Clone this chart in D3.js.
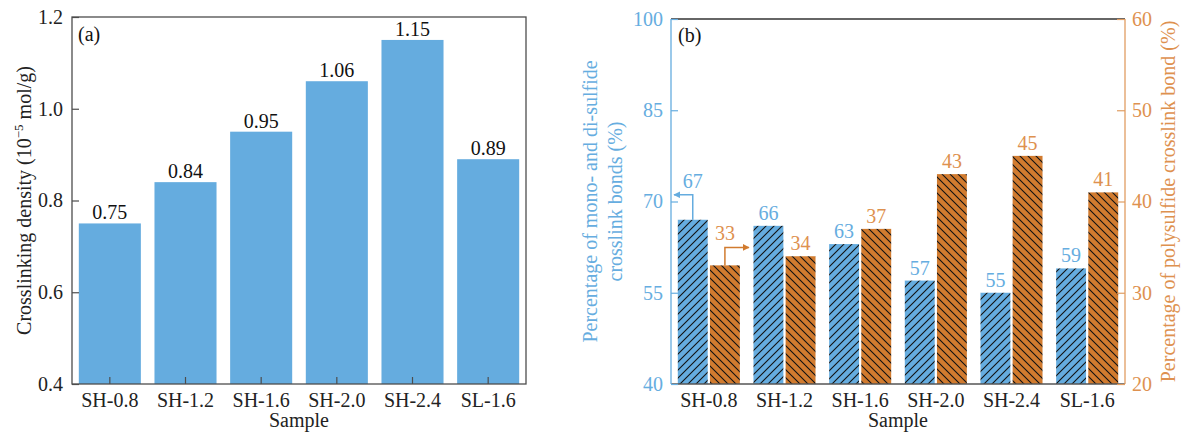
<!DOCTYPE html>
<html>
<head>
<meta charset="utf-8">
<script src="https://cdn.jsdelivr.net/npm/d3@7"></script>
<style>
  body { margin: 0; background: #fff; }
  svg { display: block; }
  svg text { font-family: "Liberation Serif", "Times New Roman", serif !important; }
</style>
</head>
<body>
<svg id="chart" width="1185" height="432" font-family="Liberation Serif"></svg>
<script>
// ---- Data ----
const samples = ["SH-0.8", "SH-1.2", "SH-1.6", "SH-2.0", "SH-2.4", "SL-1.6"];
const crosslinkDensity = [0.75, 0.84, 0.95, 1.06, 1.15, 0.89];
const monoDiPercent = [67, 66, 63, 57, 55, 59];
const polyPercent = [33, 34, 37, 43, 45, 41];
const densityTicks = [0.4, 0.6, 0.8, 1.0, 1.2];
const monoDiTicks = [40, 55, 70, 85, 100];
const polyTicks = [20, 30, 40, 50, 60];

// ---- Styles ----
const BLUE = "#65ACDF";
const ORANGE = "#D17B2F";
const BLUE_TXT = "#66ADE0";
const ORANGE_TXT = "#DE914F";
const ORANGE_AXIS = "#E09D62";
const FRAME = "#4d4d4d";
const FS = 20;
const FONT = "Liberation Serif";

const svg = d3.select("#chart");
const defs = svg.append("defs");

function txt(sel) {
  return sel.attr("font-family", FONT).style("font-family", FONT).style("font-size", FS + "px");
}

function hatch(id, color, dir) {
  const p = defs.append("pattern").attr("id", id)
    .attr("patternUnits", "userSpaceOnUse").attr("width", 8).attr("height", 8);
  p.append("rect").attr("width", 8).attr("height", 8).attr("fill", color);
  const path = dir === "/" ? "M-2,2 l4,-4 M0,8 l8,-8 M6,10 l4,-4"
                           : "M-2,6 l4,4 M0,0 l8,8 M6,-2 l4,4";
  p.append("path").attr("d", path).attr("stroke", "#111").attr("stroke-width", 1.1);
}
hatch("hBlue", BLUE, "/");
hatch("hOrange", ORANGE, "\\");

function marker(id, color) {
  defs.append("marker").attr("id", id).attr("viewBox", "0 0 10 10")
    .attr("refX", 9).attr("refY", 5).attr("markerWidth", 7).attr("markerHeight", 7)
    .attr("markerUnits", "userSpaceOnUse").attr("orient", "auto")
    .append("path").attr("d", "M0,0 L10,5 L0,10 Z").attr("fill", color);
}

function styleAxis(g, color) {
  g.attr("font-family", FONT);
  g.selectAll("path.domain").remove();
  g.selectAll("line").attr("stroke", color).attr("stroke-width", 1.2);
  txt(g.selectAll("text").attr("fill", color));
}

// ================= Panel (a) =================
{
  const L = 72, R = 526, T = 17, B = 384;
  const x = d3.scaleBand().domain(samples).range([L, R]).paddingInner(0.18).paddingOuter(0.09);
  const y = d3.scaleLinear().domain([0.4, 1.2]).range([B, T]);

  svg.append("g").selectAll("rect").data(samples).join("rect")
    .attr("x", d => x(d)).attr("width", x.bandwidth())
    .attr("y", (d, i) => y(crosslinkDensity[i]))
    .attr("height", (d, i) => B - y(crosslinkDensity[i]))
    .attr("fill", BLUE);

  txt(svg.append("g").selectAll("text").data(samples).join("text")
    .attr("x", d => x(d) + x.bandwidth() / 2)
    .attr("y", (d, i) => y(crosslinkDensity[i]) - 4)
    .attr("text-anchor", "middle").attr("fill", "#111"))
    .text((d, i) => crosslinkDensity[i].toFixed(2));

  const gy = svg.append("g").attr("transform", `translate(${L},0)`)
    .call(d3.axisLeft(y).tickValues(densityTicks).tickFormat(d3.format(".1f"))
      .tickSizeInner(-7).tickSizeOuter(0).tickPadding(9));
  styleAxis(gy, "#222");
  gy.selectAll("line").attr("stroke", FRAME);

  const gx = svg.append("g").attr("transform", `translate(0,${B})`)
    .call(d3.axisBottom(x).tickSizeInner(-7).tickSizeOuter(0).tickPadding(9));
  styleAxis(gx, "#222");
  gx.selectAll("line").attr("stroke", FRAME);

  svg.append("rect").attr("x", L).attr("y", T).attr("width", R - L).attr("height", B - T)
    .attr("fill", "none").attr("stroke", FRAME).attr("stroke-width", 1.3);

  txt(svg.append("text").attr("x", 78).attr("y", 41).attr("fill", "#111")).text("(a)");

  const yl = txt(svg.append("text").attr("transform", `translate(31,${(T + B) / 2}) rotate(-90)`)
    .attr("text-anchor", "middle").attr("fill", "#222"));
  yl.append("tspan").text("Crosslinking density (10");
  yl.append("tspan").attr("dy", -8).style("font-size", "13px").text("\u22125");
  yl.append("tspan").attr("dy", 8).text(" mol/g)");

  txt(svg.append("text").attr("x", (L + R) / 2).attr("y", 427).attr("text-anchor", "middle")
    .attr("fill", "#222")).text("Sample");
}

// ================= Panel (b) =================
{
  const L = 671, R = 1125, T = 19, B = 384;
  const x0 = d3.scaleBand().domain(samples).range([L, R]).paddingInner(0.18).paddingOuter(0.09);
  const x1 = d3.scaleBand().domain(["mono", "poly"]).range([0, x0.bandwidth()]).paddingInner(0.07);
  const yL = d3.scaleLinear().domain([40, 100]).range([B, T]);
  const yR = d3.scaleLinear().domain([20, 60]).range([B, T]);

  const gBars = svg.append("g");
  gBars.selectAll("rect.mono").data(samples).join("rect").attr("class", "mono")
    .attr("x", d => x0(d) + x1("mono")).attr("width", x1.bandwidth())
    .attr("y", (d, i) => yL(monoDiPercent[i]))
    .attr("height", (d, i) => B - yL(monoDiPercent[i]))
    .attr("fill", "url(#hBlue)");
  gBars.selectAll("rect.poly").data(samples).join("rect").attr("class", "poly")
    .attr("x", d => x0(d) + x1("poly")).attr("width", x1.bandwidth())
    .attr("y", (d, i) => yR(polyPercent[i]))
    .attr("height", (d, i) => B - yR(polyPercent[i]))
    .attr("fill", "url(#hOrange)");

  txt(svg.append("g").selectAll("text").data(samples).join("text")
    .attr("x", d => x0(d) + x1("mono") + x1.bandwidth() / 2)
    .attr("y", (d, i) => yL(monoDiPercent[i]) - (i === 0 ? 32 : 6))
    .attr("text-anchor", "middle").attr("fill", BLUE_TXT))
    .text((d, i) => monoDiPercent[i]);
  txt(svg.append("g").selectAll("text").data(samples).join("text")
    .attr("x", d => x0(d) + x1("poly") + x1.bandwidth() / 2)
    .attr("y", (d, i) => yR(polyPercent[i]) - (i === 0 ? 25 : 6))
    .attr("text-anchor", "middle").attr("fill", ORANGE_TXT))
    .text((d, i) => polyPercent[i]);

  marker("arrBlue", BLUE);
  marker("arrOrange", ORANGE);
  const s0 = samples[0];
  const bx = x0(s0) + x1("mono") + x1.bandwidth() / 2, by = yL(monoDiPercent[0]);
  svg.append("path").attr("d", `M${bx},${by} V${by - 25} H${L + 3}`)
    .attr("fill", "none").attr("stroke", BLUE).attr("stroke-width", 1.5)
    .attr("marker-end", "url(#arrBlue)");
  const ox = x0(s0) + x1("poly") + x1.bandwidth() / 2, oy = yR(polyPercent[0]);
  svg.append("path").attr("d", `M${ox},${oy} V${oy - 18} H${ox + 24}`)
    .attr("fill", "none").attr("stroke", ORANGE).attr("stroke-width", 1.5)
    .attr("marker-end", "url(#arrOrange)");

  svg.append("line").attr("x1", L).attr("x2", R).attr("y1", T).attr("y2", T)
    .attr("stroke", "#333").attr("stroke-width", 1.3);
  svg.append("line").attr("x1", L).attr("x2", R).attr("y1", B).attr("y2", B)
    .attr("stroke", "#555").attr("stroke-width", 1.6);
  svg.append("line").attr("x1", L).attr("x2", L).attr("y1", T).attr("y2", B)
    .attr("stroke", BLUE).attr("stroke-width", 1.3);
  svg.append("line").attr("x1", R).attr("x2", R).attr("y1", T).attr("y2", B)
    .attr("stroke", ORANGE_AXIS).attr("stroke-width", 1.3);

  const gyl = svg.append("g").attr("transform", `translate(${L},0)`)
    .call(d3.axisLeft(yL).tickValues(monoDiTicks).tickSizeInner(-7).tickSizeOuter(0).tickPadding(8));
  styleAxis(gyl, BLUE_TXT);
  const gyr = svg.append("g").attr("transform", `translate(${R},0)`)
    .call(d3.axisRight(yR).tickValues(polyTicks).tickSizeInner(-8).tickSizeOuter(0).tickPadding(7));
  styleAxis(gyr, ORANGE_TXT);
  gyr.selectAll("line").attr("stroke", ORANGE_AXIS);
  const gx = svg.append("g").attr("transform", `translate(0,${B})`)
    .call(d3.axisBottom(x0).tickSize(0).tickPadding(9));
  styleAxis(gx, "#222");

  txt(svg.append("text").attr("x", 678).attr("y", 42).attr("fill", "#111")).text("(b)");

  const yl = txt(svg.append("text").attr("transform", `translate(597,${(T + B) / 2}) rotate(-90)`)
    .attr("text-anchor", "middle").attr("fill", BLUE_TXT));
  yl.append("tspan").attr("x", 0).text("Percentage of mono- and di-sulfide");
  yl.append("tspan").attr("x", 0).attr("dy", 25).text("crosslink bonds (%)");

  txt(svg.append("text").attr("transform", `translate(1175,${(T + B) / 2}) rotate(-90)`)
    .attr("text-anchor", "middle").attr("fill", ORANGE_TXT))
    .text("Percentage of polysulfide crosslink bond (%)");

  txt(svg.append("text").attr("x", (L + R) / 2).attr("y", 427).attr("text-anchor", "middle")
    .attr("fill", "#222")).text("Sample");
}
</script>
</body>
</html>
